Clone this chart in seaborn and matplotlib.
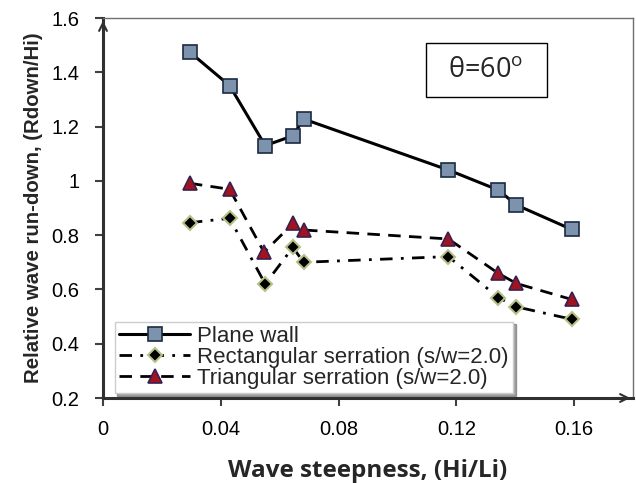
import matplotlib
matplotlib.use("Agg")
import matplotlib.pyplot as plt
import seaborn as sns
import pandas as pd
from matplotlib.patches import Rectangle

# ---- data ----
x_plane = [0.0295, 0.0430, 0.0551, 0.0645, 0.0681, 0.1173, 0.1343, 0.1404, 0.1592]
y_plane = [1.474, 1.351, 1.130, 1.166, 1.228, 1.040, 0.966, 0.911, 0.821]

x_rect = [0.0295, 0.0430, 0.0551, 0.0645, 0.0681, 0.1173, 0.1343, 0.1404, 0.1592]
y_rect = [0.846, 0.862, 0.620, 0.755, 0.700, 0.721, 0.570, 0.536, 0.490]

x_tri = [0.0295, 0.0430, 0.0547, 0.0645, 0.0681, 0.1173, 0.1343, 0.1404, 0.1592]
y_tri = [0.991, 0.969, 0.737, 0.843, 0.819, 0.786, 0.659, 0.622, 0.563]

labels = ["Plane wall", "Rectangular serration (s/w=2.0)", "Triangular serration (s/w=2.0)"]
x_ticks = [0, 0.04, 0.08, 0.12, 0.16]
x_ticklabels = ["0", "0.04", "0.08", "0.12", "0.16"]
y_ticks = [0.2, 0.4, 0.6, 0.8, 1.0, 1.2, 1.4, 1.6]
y_ticklabels = ["0.2", "0.4", "0.6", "0.8", "1", "1.2", "1.4", "1.6"]

sns.set_theme(style="white")
plt.rcParams["font.family"] = ["Liberation Sans", "DejaVu Sans"]
plt.rcParams["mathtext.fontset"] = "custom"
plt.rcParams["mathtext.rm"] = "Open Sans"

fig = plt.figure(figsize=(6.36, 4.83), dpi=100)
ax = fig.add_axes([103/636, 1-398/483, 530/636, 380/483])

sns.lineplot(x=x_plane, y=y_plane, ax=ax, color="black", linewidth=2.2, linestyle="-",
             marker="s", markersize=10.5, markerfacecolor="#7d93ad", markeredgecolor="#1a2a40",
             markeredgewidth=1.2, label=labels[0], sort=False)
sns.lineplot(x=x_rect, y=y_rect, ax=ax, color="black", linewidth=2.0, linestyle=(0, (4.5, 3, 1, 3)),
             marker="D", markersize=7, markerfacecolor="black", markeredgecolor="#b5c28a",
             markeredgewidth=1.5, label=labels[1], sort=False)
sns.lineplot(x=x_tri, y=y_tri, ax=ax, color="black", linewidth=2.0, linestyle=(0, (4.5, 3)),
             marker="^", markersize=10, markerfacecolor="#a3121f", markeredgecolor="#3a2050",
             markeredgewidth=1.2, label=labels[2], sort=False)

ax.set_xlim(0, 0.18)
ax.set_ylim(0.2, 1.6)
ax.set_xticks(x_ticks)
ax.set_xticklabels(x_ticklabels)
ax.set_yticks(y_ticks)
ax.set_yticklabels(y_ticklabels)
ax.tick_params(axis="both", which="major", direction="out", length=6, width=1.5,
               color="#404040", labelsize=14.5, labelcolor="black", bottom=True, left=True)
ax.tick_params(axis="x", pad=10)
ax.tick_params(axis="y", pad=11)

for side in ["left", "bottom"]:
    ax.spines[side].set_color("#303030")
    ax.spines[side].set_linewidth(2.2)
for side in ["top", "right"]:
    ax.spines[side].set_color("#707070")
    ax.spines[side].set_linewidth(1.0)
    ax.spines[side].set_visible(True)

# axis arrows
ax.annotate("", xy=(0, 1.0), xytext=(0, 0.96), xycoords="axes fraction",
            arrowprops=dict(arrowstyle="->", color="#303030", lw=1.5, mutation_scale=14))
ax.annotate("", xy=(1.0, 0), xytext=(0.96, 0), xycoords="axes fraction",
            arrowprops=dict(arrowstyle="->", color="#303030", lw=1.5, mutation_scale=14))

ax.set_xlabel("Wave steepness, (Hi/Li)", fontsize=17.5, fontweight="bold",
              family=["Open Sans", "DejaVu Sans"], labelpad=14)
ax.set_ylabel("Relative wave run-down, (Rdown/Hi)", fontsize=14.7, fontweight="bold", labelpad=6)

# theta box
ax.add_patch(Rectangle(((426-103)/530, (398-97)/380), 121/530, 54/380, transform=ax.transAxes,
                       facecolor="white", edgecolor="black", linewidth=1.0, zorder=5))
ax.text((486-103)/530, (398-70)/380, "θ=60$^{\\mathrm{o}}$", transform=ax.transAxes,
        ha="center", va="center", fontsize=19.5, family=["Open Sans", "DejaVu Sans"], zorder=6)

leg = ax.legend(loc="lower left", bbox_to_anchor=(0.022, 0.012), frameon=True, shadow=True,
                fancybox=False, edgecolor="#cccccc", fontsize=16, handlelength=3.2,
                handletextpad=0.3, borderpad=0.2, labelspacing=0.0, borderaxespad=0.0)
leg.get_frame().set_linewidth(1.0)
leg.get_frame().set_alpha(1.0)

fig.savefig("out.png", dpi=100)
